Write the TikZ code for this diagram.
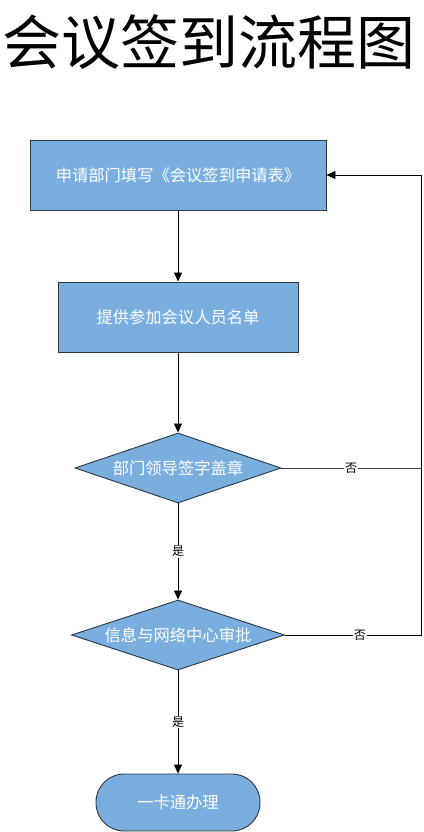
\documentclass[tikz,border=0pt]{standalone}
\usepackage{fontspec}
\newfontfamily\cjk{Noto Sans CJK SC}
\usetikzlibrary{shapes.geometric,arrows.meta}
\definecolor{boxfill}{RGB}{122,174,222}
\definecolor{boxline}{RGB}{45,55,65}
\definecolor{nline}{RGB}{60,60,60}
\tikzset{
  procbox/.style={draw=boxline, fill=boxfill, line width=0.9pt, minimum height=70pt, inner sep=0pt, text=white, font=\cjk\fontsize{16.3}{19}\selectfont},
  decision/.style={diamond, aspect=3, draw=boxline, fill=boxfill, line width=0.9pt, minimum height=70pt, inner sep=0pt, text=white, font=\cjk\fontsize{16.3}{19}\selectfont},
  terminal/.style={draw=boxline, fill=boxfill, line width=0.9pt, rounded corners=28pt, minimum width=164pt, minimum height=57pt, inner sep=0pt, text=white, font=\cjk\fontsize{16.3}{19}\selectfont},
  arr/.style={draw=black, line width=0.8pt, -{Triangle[length=9pt,width=8pt]}},
  plain/.style={draw=nline, line width=0.8pt},
  lbl/.style={fill=white, inner sep=1pt, text=black, font=\cjk\fontsize{12}{14}\selectfont}
}
\begin{document}
\begin{tikzpicture}[x=1pt,y=-1pt]
\useasboundingbox (0,0) rectangle (423,832);
\node (title) at (209,42) {\cjk\fontsize{59}{62}\selectfont 会议签到流程图};
\node[procbox, minimum width=296pt] (b1) at (178,175) {申请部门填写《会议签到申请表》};
\node[procbox, minimum width=240pt] (b2) at (178,317) {提供参加会议人员名单};
\node[decision, minimum width=206pt] (d1) at (178,468) {部门领导签字盖章};
\node[decision, minimum width=213pt] (d2) at (178,635) {信息与网络中心审批};
\node[terminal] (t) at (178,802.5) {一卡通办理};
\coordinate (rt) at (421,175);
\draw[arr] (b1) -- (b2);
\draw[arr] (b2) -- (d1);
\draw[arr] (d1) -- node[lbl]{是} (d2);
\draw[arr] (d2) -- node[lbl]{是} (t);
\draw[plain] (d1.east) -- node[lbl]{否} (d1.east -| rt);
\draw[arr] (d2.east) -- node[lbl, pos=0.55]{否} (d2.east -| rt) -- (rt) -- (b1.east);
\end{tikzpicture}
\end{document}
